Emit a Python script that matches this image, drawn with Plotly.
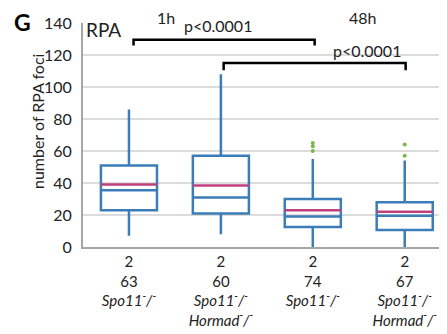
import plotly.graph_objects as go

# ---- data ----
positions = [0, 1, 2, 3]
n_mice = ["2", "2", "2", "2"]
n_cells = ["63", "60", "74", "67"]
genotypes = ["<i>Spo11<sup>-</sup>/<sup>-</sup></i>",
             "<i>Spo11<sup>-</sup>/<sup>-</sup><br>Hormad<sup>-</sup>/<sup>-</sup></i>",
             "<i>Spo11<sup>-</sup>/<sup>-</sup></i>",
             "<i>Spo11<sup>-</sup>/<sup>-</sup><br>Hormad<sup>-</sup>/<sup>-</sup></i>"]
lower_whisker = [7, 8, 0, 0]
q1 = [23, 21, 12.5, 10.6]
median = [35.5, 31, 19, 19.5]
q3 = [51, 57, 30, 28]
upper_whisker = [86, 108, 55, 54]
mean = [39, 38.5, 23, 22]
outlier_x = [0, 0, 2, 2, 2, 3, 3]
outlier_y = [141, 143, 60, 63, 65, 57, 64]
y_ticks = [0, 20, 40, 60, 80, 100, 120, 140]

FONT = "Lato"
BOX_W = 0.61
BLUE = "#3b7db8"
MAGENTA = "#c0407e"

W, H = 447, 334
OFF = 8  # page body margin
L, R, T, B = 83 - OFF, OFF, 23 - OFF, 334 - 247 + OFF

def px(xp, yp):
    xp -= OFF
    yp -= OFF
    return (xp - L) / (W - L - R), 1 - (yp - T) / (H - T - B)

fig = go.Figure()
fig.add_trace(go.Box(
    x=positions, q1=q1, median=median, q3=q3,
    lowerfence=lower_whisker, upperfence=upper_whisker,
    width=BOX_W, line=dict(color=BLUE, width=2.5),
    fillcolor="rgba(255,255,255,0)", boxpoints=False, whiskerwidth=0,
    showlegend=False, hoverinfo="skip"))

# mean lines
mx, my = [], []
for p, m in zip(positions, mean):
    mx += [p - BOX_W / 2, p + BOX_W / 2, None]
    my += [m, m, None]
fig.add_trace(go.Scatter(x=mx, y=my, mode="lines",
                         line=dict(color=MAGENTA, width=2.5),
                         showlegend=False, hoverinfo="skip"))

fig.add_trace(go.Scatter(x=outlier_x, y=outlier_y, mode="markers",
                         marker=dict(color="#7ab648", size=4, symbol="circle"),
                         cliponaxis=False, showlegend=False, hoverinfo="skip"))

# significance brackets
def bracket(x0, x1, y, drop):
    fig.add_shape(type="path",
                  path=f"M {x0},{y-drop} L {x0},{y} L {x1},{y} L {x1},{y-drop}",
                  xref="x", yref="y", line=dict(color="black", width=2.5))

bracket(0.05, 2.02, 129.5, 3.5)
bracket(1.03, 3.01, 115, 4.5)

def label(xp, yp, text, size, angle=0, color="#222"):
    x, y = px(xp, yp)
    fig.add_annotation(x=x, y=y, xref="paper", yref="paper", text=text,
                       xanchor="center", yanchor="middle",
                       showarrow=False, textangle=angle,
                       font=dict(family=FONT, size=size, color=color))

label(218, 26, "p<0.0001", 16)
label(367, 50, "p<0.0001", 16)
label(166, 18, "1h", 16)
label(363, 18, "48h", 16)
label(103, 29, "RPA", 19)
label(22, 22, "<b>G</b>", 23, color="black")
label(37, 122, "number of RPA foci", 16, angle=-90)

ticktext = [f"{a}<br>{b}<br>{c}" for a, b, c in zip(n_mice, n_cells, genotypes)]

fig.update_layout(
    width=W, height=H, margin=dict(l=L, r=R, t=T, b=B, autoexpand=False),
    paper_bgcolor="white", plot_bgcolor="white",
    font=dict(family=FONT, size=15, color="#222"),
    xaxis=dict(range=[-0.5, 3.46], tickvals=positions, ticktext=ticktext,
               showgrid=False, zeroline=False, showline=True, linecolor="#a6a6a6",
               linewidth=2, ticks="", tickfont=dict(size=15), automargin=False),
    yaxis=dict(range=[0, 140], tickvals=y_ticks, showgrid=True, gridcolor="#dcdcdc",
               gridwidth=1.5, zeroline=False, showline=True, linecolor="#a6a6a6",
               linewidth=2, ticks="", tickfont=dict(size=16), automargin=False,
               ticklabelstandoff=6),
)
fig.write_html("out.html")
